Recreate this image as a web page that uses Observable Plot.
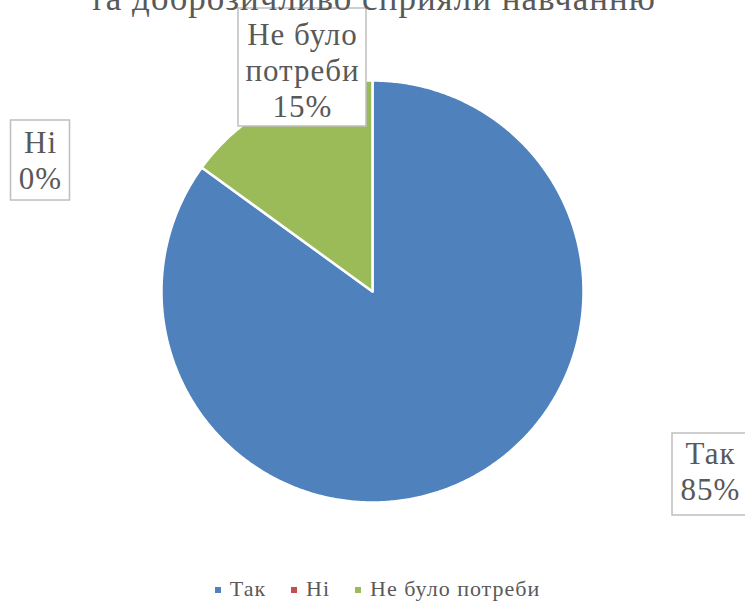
<!DOCTYPE html>
<html>
<head>
<meta charset="utf-8">
<script src="https://cdn.jsdelivr.net/npm/d3@7"></script>
<script src="https://cdn.jsdelivr.net/npm/@observablehq/plot@0.6"></script>
<style>
  html, body { margin: 0; padding: 0; background: #fff; }
  #wrap { position: relative; width: 745px; height: 604px; overflow: hidden; }
  #title { position: absolute; top: -18px; left: 0; width: 745px; text-align: center; letter-spacing: 1px;
    font: 35px/34px "Liberation Serif", "Times New Roman", serif; color: #595959; white-space: nowrap; }
  #legend { position: absolute; top: 576px; left: 0; width: 735px; padding-left: 10px; text-align: center;
    font: 22px/26px "Liberation Serif", "Times New Roman", serif; color: #595959; white-space: nowrap; letter-spacing: 1px; }
  #legend span.item { margin: 0 12.5px; }
  #legend span.sw { display: inline-block; width: 6px; height: 6px; margin-right: 9px; vertical-align: 3px; }
  .pie text { letter-spacing: 1px; }
</style>
</head>
<body>
<div id="wrap">
  <div id="chart"></div>
  <div id="title">та доброзичливо сприяли навчанню</div>
  <div id="legend"></div>
</div>
<script>
const categories = ["Так", "Ні", "Не було потреби"];
const values = [85, 0, 15];
const colors = ["#4F81BD", "#C0504D", "#9BBB59"];
const labelNames = ["Так", "Ні", "Не було\nпотреби"];

// layout (pixel space)
const W = 745, H = 565;
const cx = 372, cy = 291, R = 211;
const labelLayout = [
  {x: 710, y: 474, w: 76, h: 82, ty: 470},
  {x: 40, y: 160, w: 59, h: 80, ty: 159},
  {x: 302, y: 67, w: 128, h: 118, ty: 69}
];

const total = d3.sum(values);
const arcs = d3.pie().sort(null).value(d => d)(values);

const piePts = [];
arcs.forEach((a, i) => {
  if (a.endAngle - a.startAngle <= 0) return;
  piePts.push({cat: categories[i], x: cx, y: cy});
  const n = Math.max(2, Math.ceil((a.endAngle - a.startAngle) / (Math.PI / 360)));
  for (let k = 0; k <= n; k++) {
    const t = a.startAngle + (a.endAngle - a.startAngle) * k / n;
    piePts.push({cat: categories[i], x: cx + R * Math.sin(t), y: cy - R * Math.cos(t)});
  }
  piePts.push({cat: categories[i], x: cx, y: cy});
});

const labels = categories.map((c, i) => ({
  cat: c,
  text: labelNames[i] + "\n" + Math.round(values[i] / total * 100) + "%",
  ...labelLayout[i]
}));

const chart = Plot.plot({
  width: W, height: H,
  margin: 0,
  className: "pie",
  x: {domain: [0, W], range: [0, W], axis: null},
  y: {domain: [0, H], range: [0, H], axis: null},
  color: {domain: categories, range: colors},
  style: {background: "white"},
  marks: [
    Plot.line(piePts, {x: "x", y: "y", z: "cat", fill: "cat", stroke: "white", strokeWidth: 2.5, strokeLinejoin: "round"}),
    Plot.rect(labels, {x1: d => d.x - d.w / 2, x2: d => d.x + d.w / 2, y1: d => d.y - d.h / 2, y2: d => d.y + d.h / 2,
      fill: "white", stroke: "#BFBFBF", strokeWidth: 1.5}),
    Plot.text(labels, {x: "x", y: "ty", text: "text", fill: "#595959", fontSize: 31, lineHeight: 1.17,
      fontFamily: "Liberation Serif, Times New Roman, serif"})
  ]
});
document.getElementById("chart").appendChild(chart);

const leg = document.getElementById("legend");
categories.forEach((c, i) => {
  const item = document.createElement("span");
  item.className = "item";
  const sw = document.createElement("span");
  sw.className = "sw";
  sw.style.background = colors[i];
  item.appendChild(sw);
  item.appendChild(document.createTextNode(c));
  leg.appendChild(item);
});
</script>
</body>
</html>
